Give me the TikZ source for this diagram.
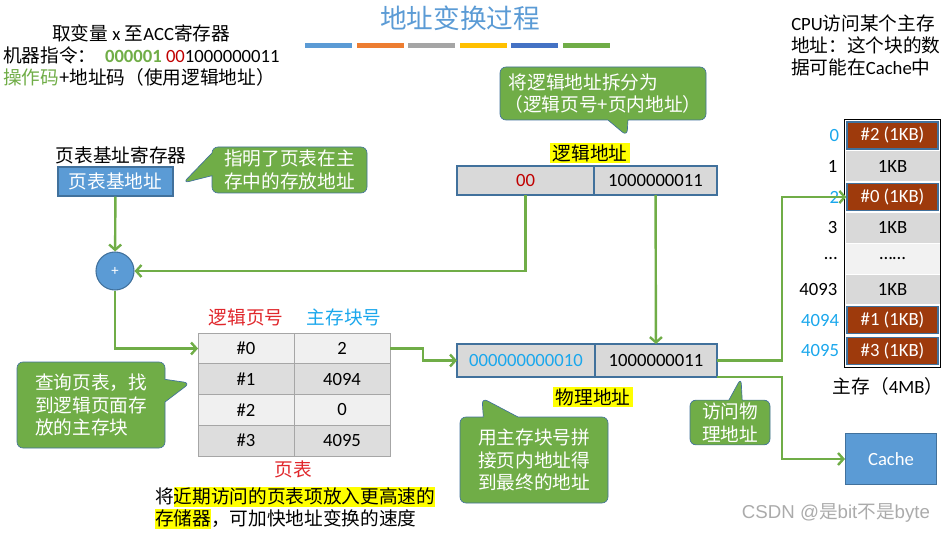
\documentclass[tikz,border=0pt]{standalone}
\usepackage{fontspec}
\setmainfont{Noto Sans CJK SC}
\newfontfamily\lat{Carlito}
\newfontfamily\wm{Liberation Sans}
\usetikzlibrary{arrows.meta,positioning,shapes.callouts,fit}
\definecolor{accblue}{HTML}{5B9BD5}
\definecolor{accorange}{HTML}{ED7D31}
\definecolor{accgray}{HTML}{A5A5A5}
\definecolor{accyellow}{HTML}{FFC000}
\definecolor{accdblue}{HTML}{4472C4}
\definecolor{accgreen}{HTML}{70AD47}
\definecolor{edgeblue}{HTML}{41719C}
\definecolor{blockred}{HTML}{9E3A0C}
\definecolor{cellgray}{HTML}{D9D9D9}
\definecolor{celllight}{HTML}{F2F2F2}
\definecolor{rowlight}{HTML}{F0F0F0}
\definecolor{rowdark}{HTML}{DDDDDD}
\definecolor{tblgray}{HTML}{A6A6A6}
\definecolor{skyblue}{HTML}{1AA7EC}
\definecolor{darkred}{HTML}{C00000}
\definecolor{tblred}{HTML}{E0262B}
\definecolor{hlyellow}{HTML}{FFFF00}
\definecolor{wmgray}{HTML}{ABABAB}
\newcommand\basesize{\fontsize{14}{17}\selectfont}
\newcommand\hl[1]{{\setlength{\fboxsep}{0pt}\colorbox{hlyellow}{\rule[-3pt]{0pt}{15pt}#1}}}
\newcommand\gapdots{\dots}

\begin{document}
\begin{tikzpicture}[x=0.75pt,y=-0.75pt,font=\basesize,
  flow/.style={draw=accgreen,line width=1.8pt,-{Straight Barb[length=4pt,width=9pt]}},
  callout/.style={rectangle callout,rounded corners=4.5pt,fill=accgreen,draw=edgeblue,line width=0.5pt,
    text=white,align=left,inner sep=2pt,callout pointer width=15pt},
  bluebox/.style={rectangle,fill=accblue,draw=edgeblue,line width=0.8pt,text=white},
  addrcell/.style={rectangle,fill=cellgray,draw=edgeblue,line width=0.8pt,outer sep=0pt,font=\basesize\lat},
  ptcell/.style={rectangle,draw=tblgray,line width=0.6pt,outer sep=0pt,minimum width=72pt,
    minimum height=23.06pt,font=\basesize\lat},
  memcell/.style={rectangle,fill=cellgray,draw=white,line width=0.6pt,minimum width=71.25pt,
    minimum height=23.1pt,font=\basesize\lat},
  memdots/.style={memcell,fill=celllight},
  memhot/.style={rectangle,fill=blockred,draw=edgeblue,line width=1pt,text=white,
    minimum width=68.25pt,minimum height=20.25pt,font=\basesize\lat},
  hilite/.style={fill=hlyellow,inner xsep=2pt,inner ysep=1pt},
  plain/.style={inner sep=0pt}]
  \useasboundingbox (0,0) rectangle (945,534);

  % title and colour bars
  \node[text=accblue,font=\fontsize{20}{24}\selectfont] (title) at (460,18) {地址变换过程};
  \foreach \c [count=\i from 0] in {accblue,accorange,accgray,accyellow,accdblue,accgreen}
    \fill[\c] ({305+51.6*\i},43) rectangle ++(47,5.5);

  % instruction text
  \node[plain,anchor=west] (instr1) at (52,33) {取变量{\lat{} x }至{\lat ACC}寄存器};
  \node[plain,anchor=west] (instr2) at (3,55)
    {机器指令：{\lat\ \ \textcolor{accgreen}{\textbf{000001}} \textcolor{darkred}{00}1000000011}};
  \node[plain,anchor=west] (instr3) at (3,77) {\textcolor{accgreen}{操作码}+地址码（使用逻辑地址）};
  \node[plain,anchor=north west,align=left,font=\fontsize{14}{16.5}\selectfont] (cpunote) at (791,15)
    {{\lat CPU}访问某个主存\\地址：这个块的数\\据可能在{\lat Cache}中};

  % page table base register
  \node[plain] (baselbl) at (121,155) {页表基址寄存器};
  \node[bluebox,minimum width=86.25pt,minimum height=21.75pt] (base) at (115.5,181.5) {页表基地址};
  \node[bluebox,circle,minimum size=28.5pt,inner sep=0pt,font=\fontsize{11}{12}\selectfont\lat] (plus) at (115,271) {+};

  % logical address
  \node[hilite] (lalbl) at (590,153) {逻辑地址};
  \node[addrcell,minimum width=102.75pt,minimum height=21.75pt] (lpage) at (525.5,180.5) {\textcolor{darkred}{00}};
  \node[addrcell,minimum width=92.25pt,minimum height=21.75pt,right=0pt of lpage] (loff) {1000000011};

  % page table
  \node[text=tblred] (hdpage) at (246,317) {逻辑页号};
  \node[text=skyblue] (hdblock) at (344,317) {主存块号};
  \foreach \vp/\blk/\rf [count=\i from 0] in {0/2/rowlight,1/4094/rowdark,2/0/rowlight,3/4095/rowdark}{
    \node[ptcell,fill=\rf] (pg\i) at (246,{348.5+30.75*\i}) {\#\vp};
    \node[ptcell,fill=\rf,right=0pt of pg\i] (blk\i) {\blk};
  }
  \node[text=tblred] (ptlbl) at (293,469) {页表};
  \node[plain,anchor=west,align=left,font=\fontsize{14}{16.5}\selectfont] (tlbnote) at (155,508)
    {将\hl{近期访问的页表项放入更高速的}\\\hl{存储器}，可加快地址变换的速度};

  % physical address
  \node[addrcell,minimum width=103.5pt,minimum height=24.75pt] (ppage) at (526,360.5) {\textcolor{skyblue}{000000000010}};
  \node[addrcell,minimum width=91.5pt,minimum height=24.75pt,right=0pt of ppage] (poff) {1000000011};
  \node[hilite] (palbl) at (593,397) {物理地址};

  % main memory
  \foreach \lab/\txt/\sty/\lc [count=\i from 0] in {
      0/{\#2 (1KB)}/memhot/skyblue,
      1/1KB/memcell/black,
      2/{\#0 (1KB)}/memhot/skyblue,
      3/1KB/memcell/black,
      {\gapdots}/{\gapdots\gapdots}/memdots/black,
      4093/1KB/memcell/black,
      4094/{\#1 (1KB)}/memhot/skyblue,
      4095/{\#3 (1KB)}/memhot/skyblue}{
    \node[\sty] (m\i) at (892.5,{135.4+30.8*\i}) {\txt};
    \node[left=2pt of m\i,text=\lc,font=\basesize\lat] (ml\i) {\lab};
  }
  \node[fit=(m0)(m7),inner sep=1.5pt,draw=black,line width=1pt] (memframe) {};
  \node (memlbl) at (888,386) {主存（{\lat 4MB}）};
  \node[bluebox,minimum width=68.25pt,minimum height=38.25pt,font=\basesize\lat] (cache) at (891,459) {Cache};

  % callouts
  \node[callout,minimum width=116.25pt,minimum height=34.5pt,callout pointer width=17pt,callout absolute pointer={(183,183)}] (callbase) at (289.5,170)
    {指明了页表在主\\存中的存放地址};
  \node[callout,minimum width=154.5pt,minimum height=39.75pt,callout absolute pointer={(627,136)}] (callsplit) at (603,93.5)
    {\ 将逻辑地址拆分为\\（逻辑页号+页内地址）};
  \node[callout,minimum width=111pt,minimum height=64.5pt,callout pointer width=17pt,callout absolute pointer={(190,383)}] (calltable) at (91,405)
    {查询页表，找\\到逻辑页面存\\放的主存块};
  \node[callout,minimum width=111pt,minimum height=64.5pt,callout pointer width=26pt,callout absolute pointer={(482,398)}] (calljoin) at (534,460)
    {用主存块号拼\\接页内地址得\\到最终的地址};
  \node[callout,minimum width=60pt,minimum height=30.75pt,callout pointer width=10pt,callout absolute pointer={(741,378)}] (callaccess) at (730,422.5)
    {访问物\\理地址};

  % connectors
  \draw[flow] (base) -- (plus);
  \draw[flow] (lpage.south) |- (plus.east);
  \draw[flow] (plus.south) |- (pg0.west);
  \draw[flow] (blk0.east) -- ++(33,0) |- (ppage.west);
  \draw[flow] (loff) -- (poff);
  \draw[flow] (poff.east) -- ++(65,0) |- (m2.west);
  \draw[flow] (poff.south east) -- ++(65,0) |- (cache.west);

  % watermark
  \node[text=wmgray] (wmark) at (836,513) {{\wm CSDN @}是{\wm bit}不是{\wm byte}};
\end{tikzpicture}
\end{document}
